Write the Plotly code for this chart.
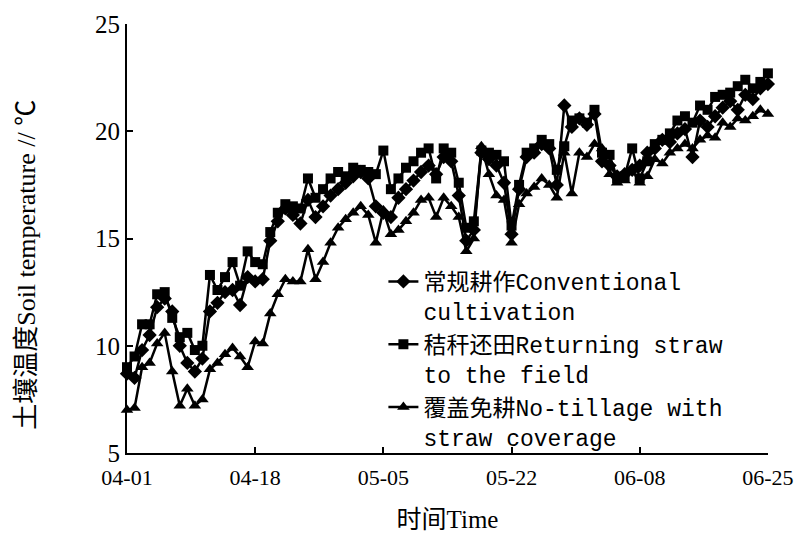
import pandas as pd
import plotly.graph_objects as go

# Daily soil temperature, 1 April - 25 June
dates = pd.date_range("2000-04-01", "2000-06-25", freq="D")

conventional = [
    8.7, 8.5, 9.8, 10.5, 11.8, 12.2, 11.6, 10.0, 9.2, 8.8,
    9.4, 11.6, 12.0, 12.5, 12.6, 11.9, 13.2, 13.0, 13.1, 14.9,
    15.8, 16.4, 16.1, 15.7, 16.8, 16.0, 16.5, 17.0, 17.3, 17.6,
    17.9, 18.1, 17.8, 16.5, 16.2, 16.0, 16.9, 17.3, 17.7, 18.1,
    18.4, 18.0, 18.8, 18.6, 17.0, 14.9, 15.4, 19.0, 18.7, 18.4,
    17.6, 15.2, 17.3, 18.8, 19.0, 19.4, 19.2, 17.5, 21.2, 20.2,
    20.6, 20.3, 20.8, 18.6, 18.4, 17.9, 18.0, 18.2, 18.4, 19.0,
    19.2, 19.6, 19.5, 19.9, 20.1, 18.8, 20.5, 20.2, 20.7, 21.1,
    21.4, 21.0, 21.7, 21.5, 22.0, 22.2,
]
straw_return = [
    9.0, 9.5, 11.0, 11.0, 12.4, 12.5, 11.3, 10.4, 10.6, 9.8,
    10.0, 13.3, 12.6, 13.2, 13.9, 12.8, 14.4, 13.9, 13.8, 15.3,
    16.2, 16.6, 16.5, 16.4, 17.8, 16.9, 17.3, 17.8, 18.1, 17.9,
    18.3, 18.2, 18.1, 18.0, 19.1, 17.3, 17.8, 18.3, 18.6, 19.0,
    19.2, 17.8, 19.2, 19.0, 17.6, 15.5, 15.8, 19.1, 19.0, 18.9,
    18.6, 15.6, 17.5, 19.0, 19.2, 19.6, 19.4, 18.2, 19.3, 20.5,
    20.6, 20.4, 21.0, 19.0, 18.9, 17.8, 17.9, 19.2, 17.8, 18.6,
    19.4, 19.6, 19.9, 20.5, 20.7, 20.4, 21.2, 21.0, 21.6, 21.7,
    21.8, 22.1, 22.4, 22.0, 22.3, 22.7,
]
no_tillage = [
    7.0, 7.1, 9.0, 9.2, 10.1, 10.6, 8.8, 7.2, 8.0, 7.2,
    7.5, 8.9, 9.2, 9.6, 9.9, 9.5, 9.0, 10.2, 10.1, 11.5,
    12.4, 13.1, 13.0, 13.0, 14.5, 13.1, 13.9, 14.8, 15.5, 15.9,
    16.2, 16.5, 16.1, 14.8, 16.3, 15.2, 15.4, 15.8, 16.2, 16.8,
    16.9, 16.0, 16.9, 16.5, 16.0, 14.4, 15.0, 19.3, 18.0, 17.0,
    16.8, 14.8, 16.6, 17.1, 17.4, 17.8, 17.5, 16.9, 19.0, 17.1,
    19.0, 18.8, 19.4, 19.2, 18.0, 17.6, 17.7, 18.2, 17.6, 17.9,
    18.7, 18.5, 19.0, 19.2, 19.4, 19.2, 19.6, 19.8, 19.7, 20.4,
    20.2, 20.6, 20.5, 20.7, 21.0, 20.8,
]

series_names = [
    "常规耕作Conventional<br>cultivation",
    "秸秆还田Returning straw<br>to the field",
    "覆盖免耕No-tillage with<br>straw coverage",
]
series_values = [conventional, straw_return, no_tillage]
series_symbols = ["diamond", "square", "triangle-up"]
series_sizes = [11, 10, 11]

tick_dates = ["2000-04-01", "2000-04-18", "2000-05-05", "2000-05-22", "2000-06-08", "2000-06-25"]
tick_labels = ["04-01", "04-18", "05-05", "05-22", "06-08", "06-25"]
y_ticks = [5, 10, 15, 20, 25]

serif = "Liberation Serif, Noto Sans CJK SC, serif"
legend_font = "Liberation Mono, Noto Sans CJK SC, monospace"

fig = go.Figure()
for name, vals, sym, size in zip(series_names, series_values, series_symbols, series_sizes):
    fig.add_trace(go.Scatter(
        x=dates, y=vals, name=name, mode="lines+markers",
        line=dict(color="black", width=2.5),
        marker=dict(symbol=sym, size=size, color="black"),
        cliponaxis=False,
    ))

# vertical axis title, placed as a rotated annotation left of the tick labels
fig.add_annotation(
    text="土壤温度Soil temperature // ℃",
    xref="paper", yref="paper", x=-0.158, y=0.438,
    xanchor="center", yanchor="middle", textangle=-90, showarrow=False,
    font=dict(family=serif, size=26, color="black"),
)

fig.update_layout(
    width=795, height=533,
    margin=dict(l=127, r=27, t=24, b=80),
    paper_bgcolor="white", plot_bgcolor="white",
    showlegend=True,
    legend=dict(
        x=0.4, y=0.45, xanchor="left", yanchor="top",
        bgcolor="rgba(0,0,0,0)", valign="top",
        font=dict(family=legend_font, size=23, color="black"),
    ),
    xaxis=dict(
        range=["2000-04-01", "2000-06-25 00:20"],
        tickvals=tick_dates, ticktext=tick_labels,
        showline=True, linecolor="black", linewidth=2,
        ticks="inside", ticklen=6, tickwidth=2, tickcolor="black",
        showgrid=False, zeroline=False, ticklabeloverflow="allow",
        ticklabelstandoff=4, automargin=False,
        tickfont=dict(family=serif, size=22, color="black"),
        title=dict(text="时间Time", font=dict(family=serif, size=25, color="black"), standoff=24),
    ),
    yaxis=dict(
        range=[5, 25], tickvals=y_ticks, automargin=False,
        showline=True, linecolor="black", linewidth=2,
        ticks="inside", ticklen=6, tickwidth=2, tickcolor="black",
        showgrid=False, zeroline=False,
        tickfont=dict(family=serif, size=25, color="black"),
    ),
)

fig.write_html("out.html")
